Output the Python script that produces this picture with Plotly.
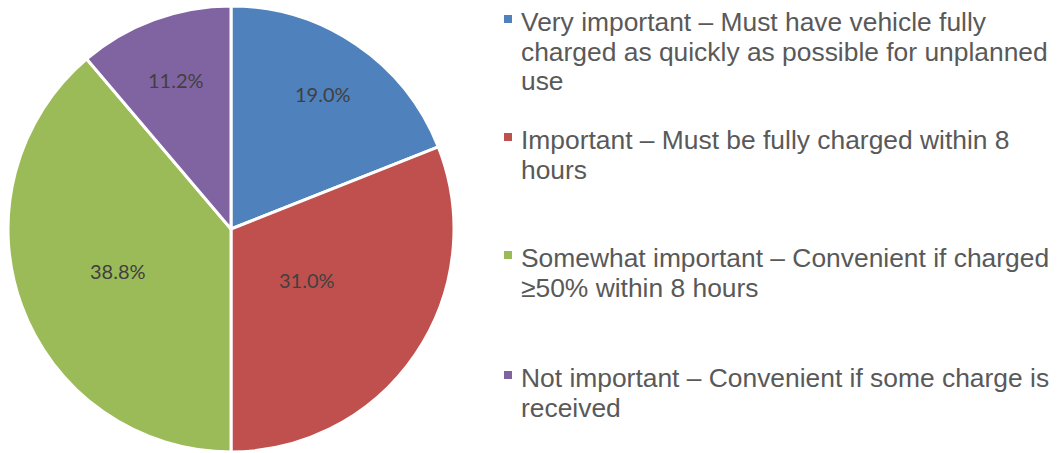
import numpy as np
import plotly.graph_objects as go

W, H = 1059, 453

categories = [
    "Very important – Must have vehicle fully charged as quickly as possible for unplanned use",
    "Important – Must be fully charged within 8 hours",
    "Somewhat important – Convenient if charged ≥50% within 8 hours",
    "Not important – Convenient if some charge is received",
]
values = [19.0, 31.0, 38.8, 11.2]
colors = ["#4F81BD", "#C0504D", "#9BBB59", "#8064A2"]

# how far out (fraction of radius) each percentage label sits
label_radius = [0.73, 0.41, 0.54, 0.71]

# legend text, wrapped as in the report layout
legend_lines = [
    ["Very important – Must have vehicle fully",
     "charged as quickly as possible for unplanned",
     "use"],
    ["Important – Must be fully charged within 8",
     "hours"],
    ["Somewhat important – Convenient if charged",
     "≥50% within 8 hours"],
    ["Not important – Convenient if some charge is",
     "received"],
]
legend_first_line_y = [22, 140, 258, 378]  # px from top
LINE_STEP = 29.5

# pie placement in pixels
cx, cy, R = 231, 229, 223

fig = go.Figure(
    go.Pie(
        labels=categories,
        values=values,
        sort=False,
        direction="clockwise",
        rotation=0,
        marker=dict(colors=colors, line=dict(color="white", width=3)),
        textinfo="none",
        hoverinfo="label+percent",
        showlegend=False,
        domain=dict(
            x=[(cx - R) / W, (cx + R) / W],
            y=[(H - cy - R) / H, (H - cy + R) / H],
        ),
    )
)

annotations = []

# percentage labels at each slice's mid-angle (clockwise from 12 o'clock)
vals = np.array(values)
shares = vals / vals.sum()
mid = np.cumsum(shares) - shares / 2
for v, m, rf in zip(values, mid, label_radius):
    ang = 2 * np.pi * m
    px = cx + rf * R * np.sin(ang)
    py = cy - rf * R * np.cos(ang)
    annotations.append(dict(
        x=px / W, y=1 - py / H, xref="paper", yref="paper",
        xanchor="center", yanchor="middle", showarrow=False,
        text=f"{v:.1f}%",
        font=dict(family="Lato", size=20, color="#404040"),
    ))

shapes = []
for i, lines in enumerate(legend_lines):
    y0 = legend_first_line_y[i]
    for j, line in enumerate(lines):
        yy = y0 + j * LINE_STEP
        annotations.append(dict(
            x=519 / W, y=1 - yy / H, xref="paper", yref="paper",
            xanchor="left", yanchor="middle", showarrow=False,
            text=line,
            font=dict(family="Liberation Sans", size=26.4, color="#595959"),
        ))
    my = y0 - 3
    shapes.append(dict(
        type="rect", xref="paper", yref="paper",
        x0=504 / W, x1=512 / W, y0=1 - (my + 4) / H, y1=1 - (my - 4) / H,
        fillcolor=colors[i], line=dict(width=0),
    ))

fig.update_layout(
    width=W, height=H,
    margin=dict(l=0, r=0, t=0, b=0),
    paper_bgcolor="white",
    plot_bgcolor="white",
    annotations=annotations,
    shapes=shapes,
)

fig.write_html("out.html")
